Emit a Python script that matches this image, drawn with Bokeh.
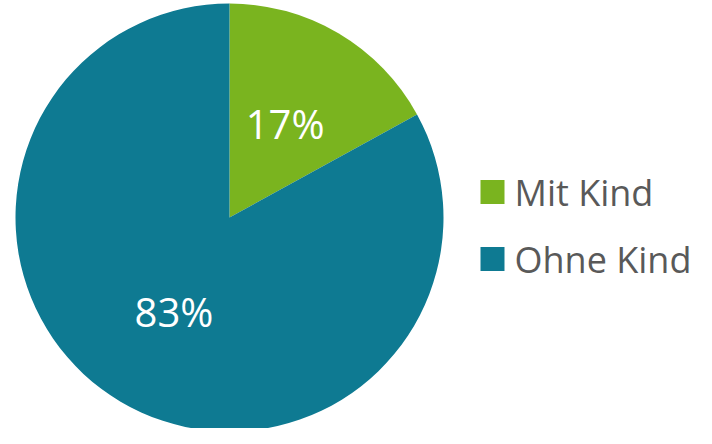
import math
from bokeh.plotting import figure
from bokeh.models import ColumnDataSource
from bokeh.core.properties import value
from bokeh.embed import file_html
from bokeh.resources import INLINE

# data
categories = ["Mit Kind", "Ohne Kind"]
shares = [17, 83]
colors = ["#7AB41F", "#0E7A92"]
labels = ["17%", "83%"]

W, H = 696, 428
p = figure(width=W, height=H, x_range=(0, W), y_range=(0, H),
           output_backend="svg", toolbar_location=None, min_border=0)
p.axis.visible = False
p.grid.visible = False
p.outline_line_color = None
p.background_fill_color = "white"

cx, cy, R = 229, 211, 214
total = sum(shares)
starts, ends, lx, ly = [], [], [], []
cur = math.pi / 2
for s in shares:
    a = s / total * 2 * math.pi
    end = cur
    start = cur - a
    starts.append(start)
    ends.append(end)
    mid = (start + end) / 2
    lx.append(cx + 0.51 * R * math.cos(mid))
    ly.append(cy + 0.51 * R * math.sin(mid))
    cur = start

src = ColumnDataSource(dict(cat=categories, start=starts, end=ends, color=colors,
                            lx=lx, ly=ly, label=labels))
p.wedge(x=cx, y=cy, radius=R, start_angle="start", end_angle="end",
        fill_color="color", line_color=None, source=src)
p.text(x="lx", y="ly", text="label", source=src, text_color="white",
       text_font=value("Open Sans"), text_font_size="40px",
       text_align="center", text_baseline="middle")

# legend
leg_x = 492
leg_y = [236.5, 169.5]
lsrc = ColumnDataSource(dict(x=[leg_x] * 2, y=leg_y, color=colors, cat=categories,
                             tx=[leg_x + 22] * 2))
p.scatter(x="x", y="y", marker="square", size=24, fill_color="color",
          line_color=None, source=lsrc)
p.text(x="tx", y="y", text="cat", source=lsrc, text_color="#595959",
       text_font=value("Open Sans"), text_font_size="36px",
       text_align="left", text_baseline="middle")

open("out.html", "w").write(file_html(p, INLINE))
